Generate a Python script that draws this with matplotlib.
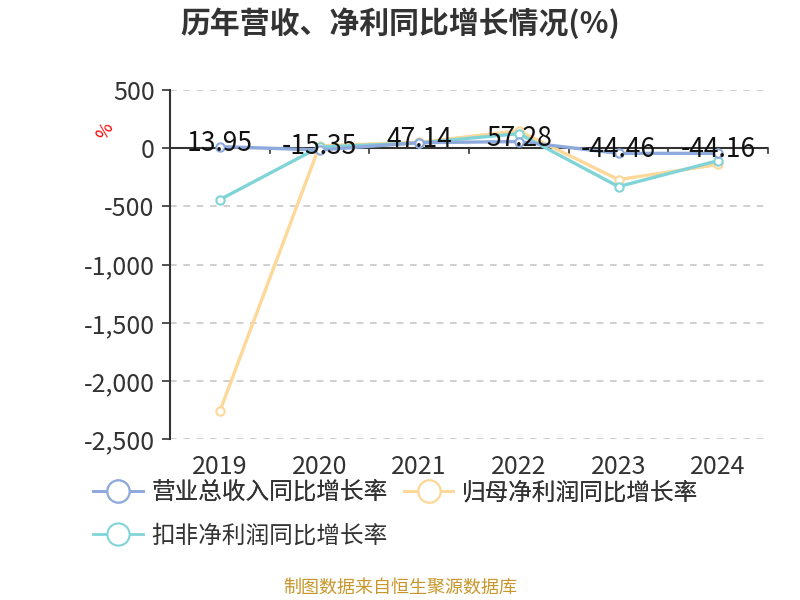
import matplotlib.pyplot as plt
from matplotlib.lines import Line2D

plt.rcParams['font.family'] = ['Noto Sans CJK SC', 'DejaVu Sans']

years = ["2019", "2020", "2021", "2022", "2023", "2024"]
revenue_growth = [13.95, -15.35, 47.14, 57.28, -44.46, -44.16]
net_profit_growth = [-2260, 20, 50, 150, -270, -140]
deducted_profit_growth = [-442, 10, 45, 125, -330, -107]
series_names = ["营业总收入同比增长率", "归母净利润同比增长率", "扣非净利润同比增长率"]
colors = ["#8eaadc", "#fdd899", "#80d4d7"]
yticks = [500, 0, -500, -1000, -1500, -2000, -2500]

fig = plt.figure(figsize=(8, 6), dpi=100)
ax = fig.add_axes([0.2125, 0.268, 0.7475, 0.582])

x = list(range(len(years)))
all_series = [revenue_growth, net_profit_growth, deducted_profit_growth]
# draw order: orange, cyan, then blue on top
zs = {1: 3, 2: 3.5, 0: 4}
for idx in [1, 2, 0]:
    ax.plot(x, all_series[idx], color=colors[idx], lw=2.4, marker='o', ms=6,
            mfc='white', mec=colors[idx], mew=1.5, zorder=zs[idx])

for i, v in enumerate(revenue_growth):
    ax.text(i, v + 30, f"{v:.2f}", ha='center', va='center', fontsize=19,
            color='#111111', zorder=6)

ax.set_xlim(-0.5, 5.5)
ax.set_ylim(-2500, 500)
ax.set_yticks(yticks)
ax.set_yticklabels([f"{t:,}" for t in yticks], fontsize=18, color='#333333')
ax.set_xticks(x)
ax.set_xticklabels(years, fontsize=18, color='#333333')
ax.tick_params(axis='x', length=0, pad=11)
ax.tick_params(axis='y', length=6, width=1.2, color='#333333', pad=5)

ax.grid(axis='y', linestyle=(0, (4, 4)), color='#c8c8c8', lw=1.2)
ax.set_axisbelow(True)
for s in ['top', 'right', 'bottom']:
    ax.spines[s].set_visible(False)
ax.spines['left'].set_color('#333333')
ax.spines['left'].set_linewidth(1.5)

# x axis line at zero with boundary ticks
ax.axhline(0, color='#333333', lw=1.5, zorder=2)
for b in [0.5, 1.5, 2.5, 3.5, 4.5, 5.5]:
    ax.plot([b, b], [0, -45], color='#333333', lw=1.2, zorder=2, clip_on=False)

fig.text(0.132, 0.782, "%", color='red', fontsize=13, rotation=60, ha='center', va='center')

fig.text(0.5, 0.962, "历年营收、净利同比增长情况(%)", fontsize=21.5, fontweight='bold',
         color='#333333', ha='center', va='center')

handles = [Line2D([0], [0], color=c, lw=2, marker='o', ms=16, mfc='white', mec=c, mew=1.5)
           for c in colors]
leg1 = fig.legend(handles[:2], series_names[:2], loc='center left', bbox_to_anchor=(0.09, 0.178),
                  ncol=2, frameon=False, fontsize=17, handlelength=2.1, columnspacing=0.7,
                  handletextpad=0.35, labelcolor='#333333')
fig.legend(handles[2:], series_names[2:], loc='center left', bbox_to_anchor=(0.09, 0.107),
           frameon=False, fontsize=17, handlelength=2.1, handletextpad=0.35, labelcolor='#333333')
fig.add_artist(leg1)

fig.text(0.5, 0.02, "制图数据来自恒生聚源数据库", fontsize=13, color='#c8962a',
         ha='center', va='center')

fig.savefig("out.png", dpi=100)
